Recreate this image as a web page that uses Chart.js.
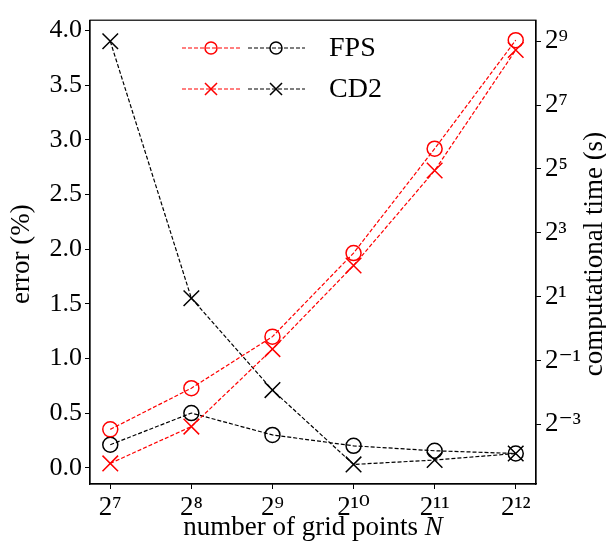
<!DOCTYPE html>
<html>
<head>
<meta charset="utf-8">
<script src="https://cdn.jsdelivr.net/npm/chart.js@4"></script>
<style>
  body { margin: 0; background: #fff; }
  #wrap { width: 606px; height: 544px; }
</style>
</head>
<body>
<div id="wrap"><canvas id="bieu_do" width="606" height="544"></canvas></div>
<script>
// grid sizes N = 2^k
const gridExp = [7, 8, 9, 10, 11, 12];
// error (%) - left axis
const fpsError = [0.21, 0.50, 0.30, 0.20, 0.155, 0.13];
const cd2Error = [3.9, 1.55, 0.71, 0.03, 0.07, 0.13];
// computational time (s) - right axis, log2
const fpsTime = [0.112, 0.274, 0.839, 5.15, 49.7, 524];
const cd2Time = [0.0535, 0.119, 0.640, 3.93, 30.9, 423];
// tick labels
const errorTicks = [0, 0.5, 1, 1.5, 2, 2.5, 3, 3.5, 4];
const timeTickExp = [-3, -1, 1, 3, 5, 7, 9];
const legendNames = ['FPS', 'CD2'];

const FONT = "'Liberation Serif', 'DejaVu Serif', serif";
const sup = { '0': '⁰', '1': '¹', '2': '²', '3': '³', '4': '⁴', '5': '⁵', '6': '⁶', '7': '⁷', '8': '⁸', '9': '⁹', '-': '⁻' };
const pow2 = e => '2' + String(e).split('').map(c => sup[c]).join('');

const pts = (ys) => gridExp.map((e, i) => ({ x: e, y: ys[i] }));

function ds(label, ys, color, style, axis) {
    return {
        label: label,
        data: pts(ys),
        yAxisID: axis,
        borderColor: color,
        borderWidth: 1.2,
        borderDash: [4, 2],
        pointStyle: style,
        pointRadius: style === 'circle' ? 7.5 : 11,
        pointBorderWidth: 1.5,
        pointBorderColor: color,
        pointBackgroundColor: 'rgba(0,0,0,0)',
        showLine: true,
        fill: false,
        tension: 0
    };
}

// frame + titles + legend drawn on canvas
const extras = {
    id: 'extras',
    afterDraw(chart) {
        const c = chart.ctx, a = chart.chartArea;
        c.save();
        c.strokeStyle = '#000';
        c.lineWidth = 1.2;
        c.strokeRect(a.left, a.top, a.right - a.left, a.bottom - a.top);

        c.fillStyle = '#000';
        c.textAlign = 'center';
        c.textBaseline = 'middle';
        const midY = (a.top + a.bottom) / 2 + 2;
        // left title
        c.save();
        c.translate(22, midY);
        c.rotate(-Math.PI / 2);
        c.font = '27px ' + FONT;
        c.fillText('error (%)', 0, 0);
        c.restore();
        // right title
        c.save();
        c.translate(595, midY);
        c.rotate(-Math.PI / 2);
        c.font = '27px ' + FONT;
        c.fillText('computational time (s)', 0, 0);
        c.restore();
        // bottom title
        const t1 = 'number of grid points ';
        c.font = 'italic 27px ' + FONT;
        const wN = c.measureText('N').width;
        c.font = '27px ' + FONT;
        const w1 = c.measureText(t1).width;
        const x0 = (a.left + a.right) / 2 - (w1 + wN) / 2;
        c.textAlign = 'left';
        c.fillText(t1, x0, 528);
        c.font = 'italic 27px ' + FONT;
        c.fillText('N', x0 + w1, 528);

        // legend
        const rows = [48, 89];
        const styles = ['circle', 'crossRot'];
        const radii = [6, 8.5];
        rows.forEach((y, i) => {
            [[182, 240, 211, 'red'], [248, 305, 276, '#000']].forEach(([xa, xb, xm, col]) => {
                c.strokeStyle = col;
                c.lineWidth = 1.2;
                c.setLineDash([4, 2]);
                c.beginPath(); c.moveTo(xa, y); c.lineTo(xb, y); c.stroke();
                c.setLineDash([]);
                c.lineWidth = 1.5;
                c.fillStyle = 'rgba(0,0,0,0)';
                Chart.helpers.drawPoint(c, { pointStyle: styles[i], radius: radii[i], rotation: 0, borderWidth: 1.5 }, xm, y);
            });
            c.fillStyle = '#000';
            c.font = '28px ' + FONT;
            c.textAlign = 'left';
            c.fillText(legendNames[i], 329, y + 1);
        });
        c.restore();
    }
};

const ctx = document.getElementById('bieu_do');
const bieu_do = new Chart(ctx, {
    type: 'line',
    data: {
        datasets: [
            ds('FPS time', fpsTime, 'red', 'circle', 'yTime'),
            ds('CD2 time', cd2Time, 'red', 'crossRot', 'yTime'),
            ds('FPS error', fpsError, '#000', 'circle', 'yErr'),
            ds('CD2 error', cd2Error, '#000', 'crossRot', 'yErr')
        ]
    },
    options: {
        responsive: false,
        animation: false,
        layout: { padding: { top: 12, left: 0, right: 0, bottom: 0 } },
        plugins: { legend: { display: false }, tooltip: { enabled: false } },
        scales: {
            x: {
                type: 'linear',
                min: 6.75,
                max: 12.25,
                afterBuildTicks: s => { s.ticks = gridExp.map(v => ({ value: v })); },
                afterFit: s => { s.height = 60; },
                grid: { display: true, drawOnChartArea: false, drawTicks: true, tickLength: 5, color: '#000' },
                border: { display: true, color: '#000', width: 1.2 },
                ticks: { color: '#000', font: { family: FONT, size: 27 }, padding: 3, maxRotation: 0, callback: v => pow2(v) }
            },
            yErr: {
                type: 'linear',
                position: 'left',
                min: -0.149,
                max: 4.093,
                afterBuildTicks: s => { s.ticks = errorTicks.map(v => ({ value: v })); },
                afterFit: s => { s.width = 90; },
                grid: { display: true, drawOnChartArea: false, drawTicks: true, tickLength: 5, color: '#000' },
                border: { display: true, color: '#000', width: 1.2 },
                ticks: { color: '#000', font: { family: FONT, size: 26 }, padding: 3, callback: v => v.toFixed(1) }
            },
            yTime: {
                type: 'logarithmic',
                position: 'right',
                min: Math.pow(2, -4.87),
                max: Math.pow(2, 9.66),
                afterBuildTicks: s => { s.ticks = timeTickExp.map(e => ({ value: Math.pow(2, e) })); },
                afterFit: s => { s.width = 70; },
                grid: { display: true, drawOnChartArea: false, drawTicks: true, tickLength: 5, color: '#000' },
                border: { display: true, color: '#000', width: 1.2 },
                ticks: { color: '#000', font: { family: FONT, size: 27 }, padding: 4, callback: v => pow2(Math.round(Math.log2(v))) }
            }
        }
    },
    plugins: [extras]
});
</script>
</body>
</html>
